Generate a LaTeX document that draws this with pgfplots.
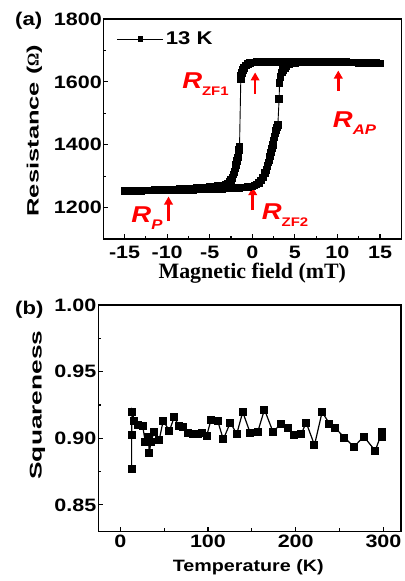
\documentclass[border=0pt]{standalone}
\usepackage{fontspec}
\setmainfont{Liberation Sans}[FakeStretch=1.2]
\newfontfamily\ylabfont{Liberation Sans}[FakeStretch=1.55]
\newfontfamily\serifb{Liberation Serif}
\usepackage{pgfplots}
\pgfplotsset{compat=1.18}
\usetikzlibrary{arrows.meta}
\definecolor{annred}{HTML}{FF0000}

\pgfplotsset{
  panel/.style={
    scale only axis,
    axis line style={line width=1.5bp},
    tick align=inside, tick pos=left,
    major tick length=4.5bp, minor tick length=3bp,
    every tick/.style={line width=1.2bp,black},
    minor tick num=1,
    tick label style={font=\bfseries\fontsize{18}{19}\selectfont},
    /pgf/number format/assume math mode=true,
    /pgf/number format/1000 sep={},
  }
}

\newcommand{\rlab}[3]{{\bfseries\itshape\fontsize{23}{24}\selectfont R}{\bfseries\fontsize{#3}{14}\selectfont\raisebox{-7bp}{#1#2}}}

\begin{document}
\begin{tikzpicture}
\useasboundingbox (0,0) rectangle (405bp,581bp);

% (a) hysteresis loop
\begin{axis}[panel,
  at={(103.3bp,342bp)}, anchor=south west,
  width=298bp, height=220bp,
  xmin=-17.5, xmax=17.5, ymin=1100, ymax=1800,
  xtick={-15,-10,-5,0,5,10,15}, ytick={1200,1400,1600,1800},
  xticklabel style={yshift=-3.5bp},
  yticklabel style={xshift=2bp},
  xlabel={\serifb\bfseries\fontsize{22}{24}\selectfont Magnetic field (mT)},
  xlabel style={at={(axis description cs:0.5,-0.1773)}, anchor=base},
  ylabel={\ylabfont\bfseries\fontsize{16.5}{18}\selectfont Resistance ({\serifb Ω})},
  ylabel style={at={(axis description cs:-0.2173,0.493)}, anchor=base},
  legend style={at={(axis description cs:0.045,0.908)}, anchor=west, draw=none, fill=none,
    inner sep=0pt, font=\bfseries\fontsize{18.5}{20}\selectfont},
  legend image code/.code={\draw[#1,mark repeat=2,mark phase=2,mark size=2.3bp]
    plot coordinates {(0bp,0bp) (23bp,0bp) (46bp,0bp)};},
]
\addplot[black, line width=0.9bp, mark=square*, mark size=3.3bp] coordinates {
(-15,1252)(-14.5,1252)(-14,1253)(-13.5,1253)(-13,1253)(-12.5,1254)(-12,1254)(-11.5,1254)
(-11,1255)(-10.5,1255)(-10,1255)(-9.5,1256)(-9,1256)(-8.5,1256)(-8,1257)(-7.5,1257)
(-7,1257)(-6.5,1258)(-6,1258)(-5.5,1258)(-5,1259)(-4.5,1259)(-4,1260)(-3.5,1260)
(-3,1261)(-2.5,1261)(-2,1262)(-1.5,1263)(-1,1264)(-0.5,1265)(0,1267)(0.25,1270)
(0.5,1274)(0.75,1279)(1,1286)(1.25,1296)(1.5,1310)(1.65,1320)(1.8,1333)(1.9,1343)
(2,1352)(2.1,1363)(2.2,1375)(2.3,1388)(2.4,1400)(2.5,1413)(2.6,1425)(2.7,1436)
(2.8,1446)(2.9,1455)(3,1462)(3.15,1546)(3.2,1596)(3.3,1615)(3.45,1630)(3.6,1638)
(3.8,1645)(4,1650)(4.3,1655)(4.6,1658)(5,1660)(5.5,1662)(6,1662)(6.5,1663)
(7,1663)(7.5,1663)(8,1663)(8.5,1663)(9,1663)(9.5,1663)(10,1663)(10.5,1662)
(11,1662)(11.5,1662)(12,1662)(12.5,1661)(13,1661)(13.5,1661)(14,1660)(14.5,1660)
(15,1659)
(15,1659)(14.5,1660)(14,1660)(13.5,1661)(13,1661)(12.5,1662)(12,1662)(11.5,1662)
(11,1663)(10.5,1663)(10,1663)(9.5,1663)(9,1664)(8.5,1664)(8,1664)(7.5,1664)
(7,1664)(6.5,1664)(6,1664)(5.5,1664)(5,1664)(4.5,1664)(4,1664)(3.5,1664)
(3,1664)(2.5,1664)(2,1664)(1.5,1664)(1,1663)(0.5,1663)(0,1662)(-0.25,1660)
(-0.5,1657)(-0.75,1652)(-0.95,1645)(-1.1,1637)(-1.2,1628)(-1.3,1618)(-1.35,1608)
(-1.5,1395)(-1.58,1384)(-1.65,1372)(-1.72,1360)(-1.8,1348)(-1.9,1336)(-2,1325)
(-2.1,1314)(-2.2,1305)(-2.35,1295)(-2.5,1288)(-2.7,1281)(-2.9,1277)(-3.1,1274)
(-3.5,1270)(-4,1268)(-4.5,1266)(-5,1265)(-5.5,1264)(-6,1263)(-6.5,1262)(-7,1261)
(-7.5,1260)(-8,1260)(-8.5,1259)(-9,1258)(-9.5,1258)(-10,1257)(-10.5,1257)(-11,1256)
(-11.5,1256)(-12,1255)(-12.5,1255)(-13,1254)(-13.5,1254)(-14,1253)(-14.5,1253)(-15,1253)
};
\addlegendentry{13 K}
% annotations
\draw[annred, line width=2.6bp, -{Triangle[length=8bp,width=8.5bp]}] (axis cs:0.33,1562) -- (axis cs:0.33,1630);
\draw[annred, line width=2.6bp, -{Triangle[length=8bp,width=8.5bp]}] (axis cs:10.1,1572) -- (axis cs:10.1,1636);
\draw[annred, line width=2.6bp, -{Triangle[length=8bp,width=8.5bp]}] (axis cs:-9.84,1157) -- (axis cs:-9.84,1235);
\draw[annred, line width=2.6bp, -{Triangle[length=8bp,width=8.5bp]}] (axis cs:0.05,1192) -- (axis cs:0.05,1265);
\node[anchor=base west, inner sep=0pt, text=annred] at (axis cs:-8.25,1580) {\rlab{ZF1}{}{12.5}};
\node[anchor=base west, inner sep=0pt, text=annred] at (axis cs:9.45,1454) {\rlab{\itshape AP}{}{14}};
\node[anchor=base west, inner sep=0pt, text=annred] at (axis cs:-14.22,1152) {\rlab{\itshape P}{}{14}};
\node[anchor=base west, inner sep=0pt, text=annred] at (axis cs:1.1,1163) {\rlab{ZF2}{}{12.5}};
\end{axis}

% (b) squareness vs temperature
\begin{axis}[panel,
  at={(98.3bp,49.5bp)}, anchor=south west,
  width=302.7bp, height=226.5bp,
  xmin=-25, xmax=320, ymin=0.83, ymax=1.00,
  xtick={0,100,200,300}, ytick={0.85,0.90,0.95,1.00},
  yticklabel style={xshift=1.5bp, /pgf/number format/fixed, /pgf/number format/fixed zerofill, /pgf/number format/precision=2},
  xlabel={\bfseries\fontsize{16.5}{18}\selectfont Temperature (K)},
  xlabel style={at={(axis description cs:0.4955,-0.1775)}, anchor=base},
  ylabel={\ylabfont\bfseries\fontsize{17}{18}\selectfont Squareness},
  ylabel style={at={(axis description cs:-0.187,0.558)}, anchor=base},
]
\addplot[black, line width=1.2bp, mark=square*, mark size=3.4bp] coordinates {
(13,0.877)(13,0.9025)(13.5,0.920)(16,0.9133)(20.5,0.910)(25.5,0.9093)(28.6,0.8974)
(32,0.901)(33.1,0.8886)(35,0.8974)(38.8,0.905)(44.5,0.899)(49,0.9133)(56,0.9055)
(61.6,0.916)(66.6,0.9093)(71.2,0.9088)(77,0.9038)(82.6,0.903)(89,0.9032)(93.2,0.9042)
(98.5,0.9017)(103.5,0.914)(111,0.9131)(117.5,0.8992)(125.5,0.9118)(132.8,0.9032)
(139.6,0.9197)(148,0.9042)(156.8,0.905)(164.4,0.9215)(174,0.905)(183.4,0.9106)
(191.7,0.9076)(198.6,0.9025)(206.2,0.903)(211.9,0.9118)(221.4,0.8949)(230.1,0.9197)
(238.5,0.9108)(245.3,0.9076)(255.6,0.9004)(266.3,0.8936)(277.7,0.9012)(290.6,0.8906)
(298.6,0.905)(298.6,0.9012)
};
\end{axis}

\node[anchor=base west, inner sep=0pt, font=\bfseries\fontsize{18.5}{20}\selectfont] at (15bp,555bp) {(a)};
\node[anchor=base west, inner sep=0pt, font=\bfseries\fontsize{18.5}{20}\selectfont] at (15bp,266bp) {(b)};
\end{tikzpicture}
\end{document}
